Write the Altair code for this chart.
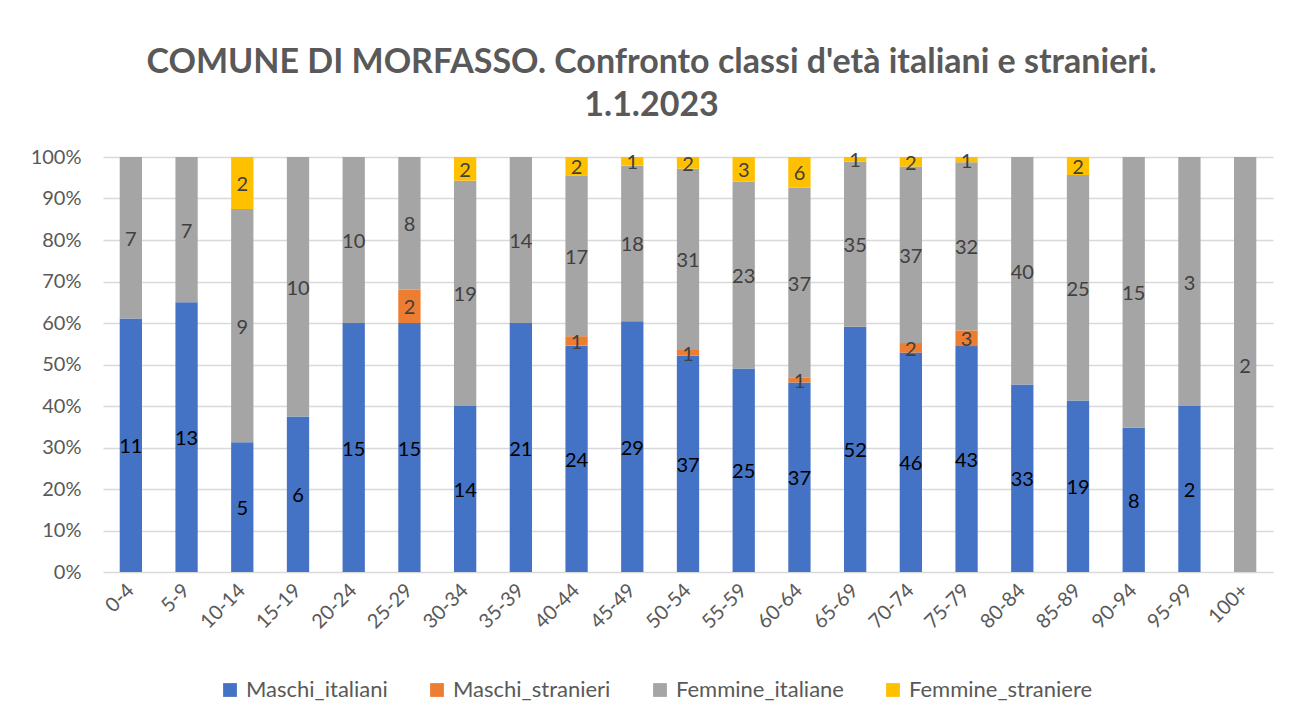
import altair as alt
import pandas as pd

ages = ["0-4", "5-9", "10-14", "15-19", "20-24", "25-29", "30-34", "35-39",
        "40-44", "45-49", "50-54", "55-59", "60-64", "65-69", "70-74", "75-79",
        "80-84", "85-89", "90-94", "95-99", "100+"]
maschi_italiani = [11, 13, 5, 6, 15, 15, 14, 21, 24, 29, 37, 25, 37, 52, 46, 43, 33, 19, 8, 2, 0]
maschi_stranieri = [0, 0, 0, 0, 0, 2, 0, 0, 1, 0, 1, 0, 1, 0, 2, 3, 0, 0, 0, 0, 0]
femmine_italiane = [7, 7, 9, 10, 10, 8, 19, 14, 17, 18, 31, 23, 37, 35, 37, 32, 40, 25, 15, 3, 2]
femmine_straniere = [0, 0, 2, 0, 0, 0, 2, 0, 2, 1, 2, 3, 6, 1, 2, 1, 0, 2, 0, 0, 0]

series = ["Maschi_italiani", "Maschi_stranieri", "Femmine_italiane", "Femmine_straniere"]
colors = ["#4472C4", "#ED7D31", "#A5A5A5", "#FFC000"]

rows = []
for k, vals in enumerate([maschi_italiani, maschi_stranieri, femmine_italiane, femmine_straniere]):
    for a, v in zip(ages, vals):
        rows.append({"age": a, "serie": series[k], "value": v, "order": k})
df = pd.DataFrame(rows)

FONT = "Lato"
GREY = "#595959"

base = alt.Chart(df).transform_stack(
    stack="value", groupby=["age"], as_=["y0", "y1"], offset="normalize",
    sort=[alt.SortField("order", order="ascending")]
).transform_calculate(mid="(datum.y0 + datum.y1) / 2")

x_enc = alt.X("age:N", sort=ages, title=None,
              scale=alt.Scale(paddingInner=0.6, paddingOuter=0.3),
              axis=alt.Axis(labelAngle=-45, labelAlign="right", labelBaseline="middle",
                            labelFontSize=20, labelColor=GREY, labelFont=FONT,
                            ticks=False, domain=False, labelPadding=15))

bars = base.mark_bar().encode(
    x=x_enc,
    y=alt.Y("y0:Q", title=None, scale=alt.Scale(domain=[0, 1]),
            axis=alt.Axis(format=".0%", values=[i / 10 for i in range(11)],
                          labelFontSize=20, labelColor=GREY, labelFont=FONT,
                          ticks=False, domain=False, grid=True, gridColor="#D9D9D9",
                          gridWidth=1.5, labelPadding=22)),
    y2="y1:Q",
    color=alt.Color("serie:N", scale=alt.Scale(domain=series, range=colors),
                    legend=alt.Legend(title=None, orient="none", direction="horizontal",
                                      legendX=116, legendY=522,
                                      symbolType="square", symbolSize=190, labelFontSize=22,
                                      labelFont=FONT, labelColor=GREY, columnPadding=38,
                                      symbolStrokeWidth=0, labelOffset=5, labelLimit=0)),
    order=alt.Order("order:Q"),
)

labels = base.transform_filter("datum.value > 0").mark_text(
    fontSize=20, font=FONT, baseline="middle", align="center", dy=2
).encode(
    x=alt.X("age:N", sort=ages),
    y=alt.Y("mid:Q"),
    text=alt.Text("value:Q"),
    color=alt.condition("datum.serie == 'Maschi_italiani'", alt.value("#000000"), alt.value("#404040")),
)

chart = alt.layer(bars, labels).properties(
    width=1170, height=415,
    title=alt.TitleParams(
        ["COMUNE DI MORFASSO. Confronto classi d'età italiani e stranieri.", "1.1.2023"],
        font=FONT, fontSize=34, fontWeight="bold", color=GREY, anchor="middle",
        frame="bounds", lineHeight=43, offset=24),
    autosize=alt.AutoSizeParams(type="none"),
    padding={"left": 95, "top": 149, "right": 9, "bottom": 144},
).configure_view(stroke=None)

chart.save("out.html", embed_options={"renderer": "svg", "actions": False})
